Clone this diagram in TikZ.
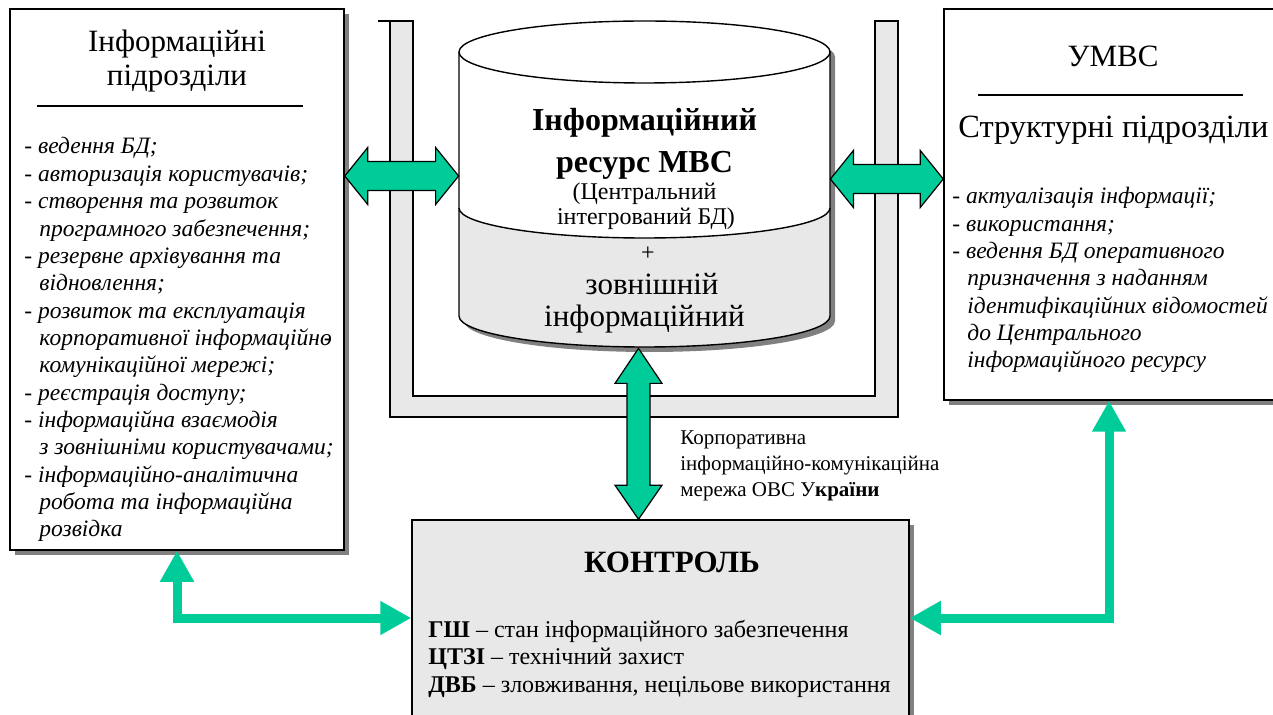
\documentclass[tikz,border=0pt]{standalone}
\usepackage{fontspec}
\setmainfont{Liberation Serif}
\usetikzlibrary{arrows.meta,positioning,calc,shadows}
\definecolor{netgreen}{RGB}{0,204,153}
\definecolor{panelgray}{RGB}{232,232,232}
\definecolor{shadowgray}{RGB}{128,128,128}
\tikzset{
  unitbox/.style={draw=black,fill=white,line width=0.75pt,inner sep=0pt,
    drop shadow={shadow xshift=2.5pt,shadow yshift=-2.5pt,fill=shadowgray,opacity=1}},
  ctrlbox/.style={unitbox,fill=panelgray},
  ttl/.style={font=\fontsize{15.5}{18}\selectfont,inner sep=0pt,anchor=base},
  itemlist/.style={font=\fontsize{11.75}{13.68}\selectfont\itshape,align=left,inner sep=0pt,anchor=base west},
  ctrllist/.style={font=\fontsize{12}{13.75}\selectfont,align=left,inner sep=0pt,anchor=base west},
  netlabel/.style={font=\fontsize{10.5}{12.75}\selectfont,align=left,inner sep=0pt,anchor=base west},
  resbold/.style={font=\fontsize{16}{19}\selectfont\bfseries,inner sep=0pt,anchor=base},
  ressmall/.style={font=\fontsize{12}{14}\selectfont,inner sep=0pt,anchor=base},
  resbig/.style={font=\fontsize{15.5}{18}\selectfont,inner sep=0pt,anchor=base},
  blockar/.style={draw=black,fill=netgreen,line width=0.6pt,line join=miter},
  greenlink/.style={draw=netgreen,line width=4.5pt,
    {Triangle[length=15.5pt,width=16pt]}-{Triangle[length=15.5pt,width=16pt]}},
  framebar/.style={draw=black,fill=panelgray,line width=0.75pt},
  cyledge/.style={draw=black,line width=0.7pt},
  rule/.style={draw=black,line width=0.6pt}
}
\newcommand{\ind}[1][7.5pt]{\hspace*{#1}}
% block arrow, left end #1, right end #2
\newcommand{\hblock}[2]{%
  \draw[blockar] (#1) -- ($(#1)+(23,-28.5)$) -- ($(#1)+(23,-14.5)$) -- ($(#2)+(-23,-14.5)$)
    -- ($(#2)+(-23,-28.5)$) -- (#2) -- ($(#2)+(-23,28.5)$) -- ($(#2)+(-23,14.5)$)
    -- ($(#1)+(23,14.5)$) -- ($(#1)+(23,28.5)$) -- cycle;}
% block arrow, top end #1, bottom end #2
\newcommand{\vblock}[2]{%
  \draw[blockar] (#1) -- ($(#1)+(23.5,35)$) -- ($(#1)+(11.5,35)$) -- ($(#2)+(11.5,-34)$)
    -- ($(#2)+(23.5,-34)$) -- (#2) -- ($(#2)+(-23.5,-34)$) -- ($(#2)+(-11.5,-34)$)
    -- ($(#1)+(-11.5,35)$) -- ($(#1)+(-23.5,35)$) -- cycle;}

\begin{document}
\begin{tikzpicture}[x=0.5pt,y=-0.5pt]
  \useasboundingbox (0,0) rectangle (1273,715);

  % U-shaped frame round the resource
  \draw[framebar] (378,21) -- (413,21) -- (413,396) -- (875,396) -- (875,21) -- (898,21)
    -- (898,417) -- (390,417) -- (390,21);

  % the resource cylinder
  \node[minimum width=185.5pt,minimum height=163pt,inner sep=0pt] (cyl) at (644.5,184) {};
  \fill[shadowgray] (464,57) -- (464,321) arc[start angle=180,end angle=0,x radius=185.5,y radius=31]
    -- (835,57) arc[start angle=0,end angle=-180,x radius=185.5,y radius=31] -- cycle;
  \fill[white] (459,52) -- (459,208) arc[start angle=180,end angle=0,x radius=185.5,y radius=30]
    -- (830,52) -- cycle;
  \fill[panelgray] (459,208) arc[start angle=180,end angle=0,x radius=185.5,y radius=30]
    -- (830,316) arc[start angle=0,end angle=180,x radius=185.5,y radius=31] -- cycle;
  \draw[cyledge] (459,52) -- (459,316) arc[start angle=180,end angle=0,x radius=185.5,y radius=31] -- (830,52);
  \draw[cyledge] (459,208) arc[start angle=180,end angle=0,x radius=185.5,y radius=30];
  \draw[cyledge,fill=white] (644.5,52) ellipse[x radius=185.5,y radius=31];
  \node[resbold] (res1) at (644.5,131) {Інформаційний};
  \node[resbold] (res2) at (644.5,173) {ресурс МВС};
  \node[ressmall] (res3) at (644.5,200) {(Центральний};
  \node[ressmall] (res4) at (646,225) {інтегрований БД)};
  \node[ressmall] (res5) at (648,261) {+};
  \node[resbig] (res6) at (652,295) {зовнішній};
  \node[resbig] (res7) at (644.5,327) {інформаційний};

  % side boxes
  \node[unitbox,minimum width=167pt,minimum height=270.5pt] (lbox) at (177,279.5) {};
  \node[ttl] (ltitle1) at (177,52) {Інформаційні};
  \node[ttl] (ltitle2) at (177,86) {підрозділи};
  \draw[rule] (37,106) -- (303,106);
  \node[itemlist] (llist) at (24,537) {- ведення БД;\\- авторизація користувачів;\\- створення та розвиток\\
    \ind програмного забезпечення;\\- резервне архівування та\\\ind відновлення;\\
    - розвиток та експлуатація\\\ind корпоративної інформаційно\llap{-}\\\ind комунікаційної мережі;\\
    - реєстрація доступу;\\- інформаційна взаємодія\\\ind з зовнішніми користувачами;\\
    - інформаційно-аналітична\\\ind робота та інформаційна\\\ind розвідка};

  \node[unitbox,minimum width=165pt,minimum height=195.5pt] (rbox) at (1109,204.5) {};
  \node[ttl] (rtitle1) at (1113,67) {УМВС};
  \draw[rule] (978,95) -- (1243,95);
  \node[ttl,anchor=base west,font=\fontsize{16.2}{18}\selectfont] (rtitle2) at (958,138) {Структурні підрозділи};
  \node[itemlist] (rlist) at (952,368) {- актуалізація інформації;\\- використання;\\
    - ведення БД оперативного\\\ind призначення з наданням\\\ind ідентифікаційних відомостей\\
    \ind до Центрального\\\ind інформаційного ресурсу};

  % control box
  \node[ctrlbox,minimum width=248.5pt,minimum height=98pt] (ctrl) at (660.5,618) {};
  \node[resbig,font=\fontsize{15.5}{18}\selectfont\bfseries] (ctrltitle) at (672,572) {КОНТРОЛЬ};
  \node[ctrllist] (ctrltext) at (428,692) {\textbf{ГШ} – стан інформаційного забезпечення\\
    \textbf{ЦТЗІ} – технічний захист\\\textbf{ДВБ} – зловживання, нецільове використання};

  % connections
  \coordinate (lhA) at (lbox.east |- 0,176);
  \coordinate (lhB) at (cyl.west |- 0,176);
  \hblock{lhA}{lhB}
  \coordinate (rhA) at (cyl.east |- 0,179);
  \coordinate (rhB) at (rbox.west |- 0,179);
  \hblock{rhA}{rhB}
  \coordinate (vA) at ($(cyl.south)+(-6,1)$);
  \coordinate (vB) at (vA |- ctrl.north);
  \vblock{vA}{vB}
  \node[netlabel] (netlbl) at (680,496) {Корпоративна\\інформаційно-комунікаційна\\мережа ОВС У\textbf{країни}};

  \draw[greenlink] (lbox.south) |- (ctrl.west);
  \draw[greenlink] (rbox.south) |- (ctrl.east);
\end{tikzpicture}
\end{document}
